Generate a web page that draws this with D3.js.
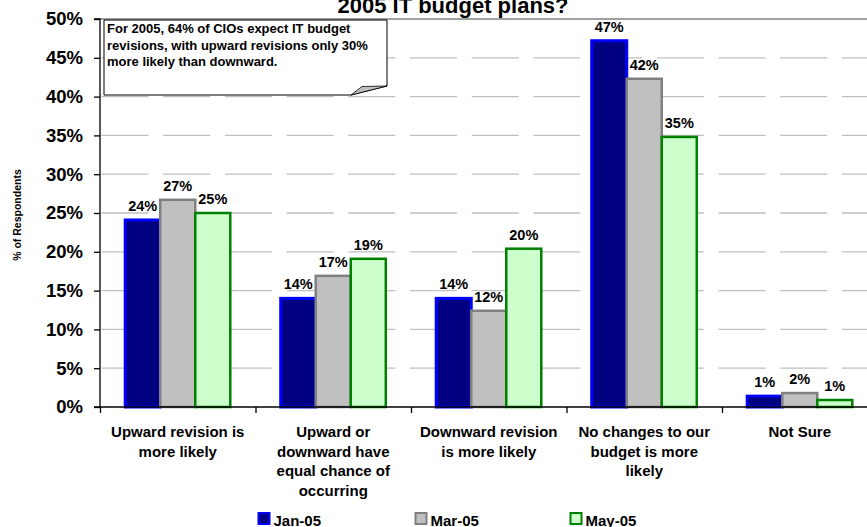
<!DOCTYPE html>
<html><head><meta charset="utf-8">
<script src="https://cdn.jsdelivr.net/npm/d3@7"></script>
<style>
html,body{margin:0;padding:0;background:#fff;}
svg text{font-family:Arial,"Liberation Sans",Helvetica,sans-serif;font-weight:bold;fill:#000;}
</style></head>
<body>
<svg id="chart" width="867" height="527"></svg>
<script>
const title = "2005 IT budget plans?";
const categories = [
  ["Upward revision is", "more likely"],
  ["Upward or", "downward have", "equal chance of", "occurring"],
  ["Downward revision", "is more likely"],
  ["No changes to our", "budget is more", "likely"],
  ["Not Sure"]
];
const seriesNames = ["Jan-05", "Mar-05", "May-05"];
const jan05 = [24.1, 14.0, 14.0, 47.2, 1.4];
const mar05 = [26.7, 16.9, 12.4, 42.3, 1.8];
const may05 = [25.0, 19.1, 20.4, 34.8, 0.9];
const yTicks = [0, 5, 10, 15, 20, 25, 30, 35, 40, 45, 50];
const yTitle = "% of Respondents";
const note = ["For 2005, 64% of CIOs expect IT budget", "revisions, with upward revisions only 30%", "more likely than downward."];

const fills = ["#000080", "#c0c0c0", "#ccffcc"];
const strokes = ["#0000ff", "#808080", "#008000"];
const seriesValues = [jan05, mar05, may05];

const svg = d3.select("#chart");
const mLeft = 100, mTop = 19, mBottom = 407, mRight = 877.5;

const x = d3.scaleBand().domain(d3.range(categories.length)).range([mLeft, mRight]).padding(0);
const xs = d3.scaleBand().domain(d3.range(seriesNames.length)).range([0, x.bandwidth()]).paddingInner(0).paddingOuter(0.72);
const y = d3.scaleLinear().domain([0, 50]).range([mBottom, mTop]);

// gridlines
svg.append("g").selectAll("line").data(yTicks.filter(t => t > 0 && t < 50)).join("line")
  .attr("x1", mLeft).attr("x2", 867).attr("y1", d => y(d)).attr("y2", d => y(d))
  .attr("stroke", "#c0c0c0").attr("stroke-width", 1.3)
  .attr("stroke-dasharray", "47,14.7").attr("stroke-dashoffset", -1.5);

// top border
svg.append("line").attr("x1", mLeft).attr("x2", 867).attr("y1", y(50)).attr("y2", y(50))
  .attr("stroke", "#808080").attr("stroke-width", 1.3);

// bars
const groups = svg.append("g").selectAll("g").data(seriesValues).join("g");
groups.selectAll("rect").data((vals, si) => vals.map((v, ci) => ({v, ci, si}))).join("rect")
  .attr("x", d => x(d.ci) + xs(d.si))
  .attr("y", d => y(d.v))
  .attr("width", xs.bandwidth())
  .attr("height", d => y(0) - y(d.v))
  .attr("fill", d => fills[d.si])
  .attr("stroke", d => strokes[d.si])
  .attr("stroke-width", d => d.si === 0 ? 3 : 2.5);

// data labels
groups.selectAll("text").data((vals, si) => vals.map((v, ci) => ({v, ci, si}))).join("text")
  .attr("x", d => x(d.ci) + xs(d.si) + xs.bandwidth() / 2)
  .attr("y", d => y(d.v) - 9)
  .attr("text-anchor", "middle").attr("font-size", 14.5)
  .text(d => Math.round(d.v) + "%");

// y axis
const yAxis = d3.axisLeft(y).tickValues(yTicks).tickFormat(d => d + "%").tickSize(6).tickPadding(11);
const gy = svg.append("g").attr("transform", `translate(${mLeft},0)`).call(yAxis);
gy.select(".domain").attr("stroke", "#000").attr("stroke-width", 1.3).attr("d", `M-6,${y(50)}H0V${y(0)}H-6`);
gy.selectAll(".tick line").attr("stroke", "#000").attr("stroke-width", 1.3);
gy.selectAll(".tick text").attr("font-size", 18.5).attr("font-family", null).style("font-weight", "bold").attr("fill", "#000");

// x axis
const xAxis = d3.axisBottom(d3.scaleLinear().domain([0, categories.length]).range([mLeft, mRight]))
  .tickValues(d3.range(categories.length + 1)).tickSize(6).tickFormat("");
const gx = svg.append("g").attr("transform", `translate(0,${mBottom})`).call(xAxis);
gx.select(".domain").attr("stroke", "#000").attr("stroke-width", 1.3).attr("d", `M${mLeft},0H867`);
gx.selectAll(".tick line").attr("stroke", "#000").attr("stroke-width", 1.3);

// category labels
const cl = svg.append("g").selectAll("text").data(categories).join("text")
  .attr("text-anchor", "middle").attr("font-size", 15);
cl.selectAll("tspan").data((lines, ci) => lines.map((l, li) => ({l, li, ci}))).join("tspan")
  .attr("x", d => x(d.ci) + x.bandwidth() / 2)
  .attr("y", d => 437 + d.li * 19.5)
  .text(d => d.l);

// y title
svg.append("text").attr("transform", "translate(21,215) rotate(-90)")
  .attr("text-anchor", "middle").attr("font-size", 10.5).text(yTitle);

// title
svg.append("text").attr("x", 453).attr("y", 13).attr("text-anchor", "middle")
  .attr("font-size", 22).text(title);

// annotation callout
const ann = svg.append("g");
ann.append("path").attr("d", "M104,20H387V86L351,95H104Z").attr("fill", "#fff").attr("stroke", "#000").attr("stroke-width", 1);
ann.append("path").attr("d", "M351,95L362,86.5L387,86Z").attr("fill", "#c0c0c0").attr("stroke", "#000").attr("stroke-width", 0.8);
ann.selectAll("text").data(note).join("text")
  .attr("x", 107).attr("y", (d, i) => 33 + i * 16.5).attr("font-size", 13).text(d => d);

// legend
const lg = svg.append("g").selectAll("g").data(seriesNames).join("g")
  .attr("transform", (d, i) => `translate(${[258.5, 415.5, 570.5][i]},513)`);
lg.append("rect").attr("width", 11).attr("height", 11)
  .attr("fill", (d, i) => fills[i]).attr("stroke", (d, i) => strokes[i]).attr("stroke-width", 2);
lg.append("text").attr("x", 15).attr("y", 12.5).attr("font-size", 15).text(d => d);
</script>
</body></html>
